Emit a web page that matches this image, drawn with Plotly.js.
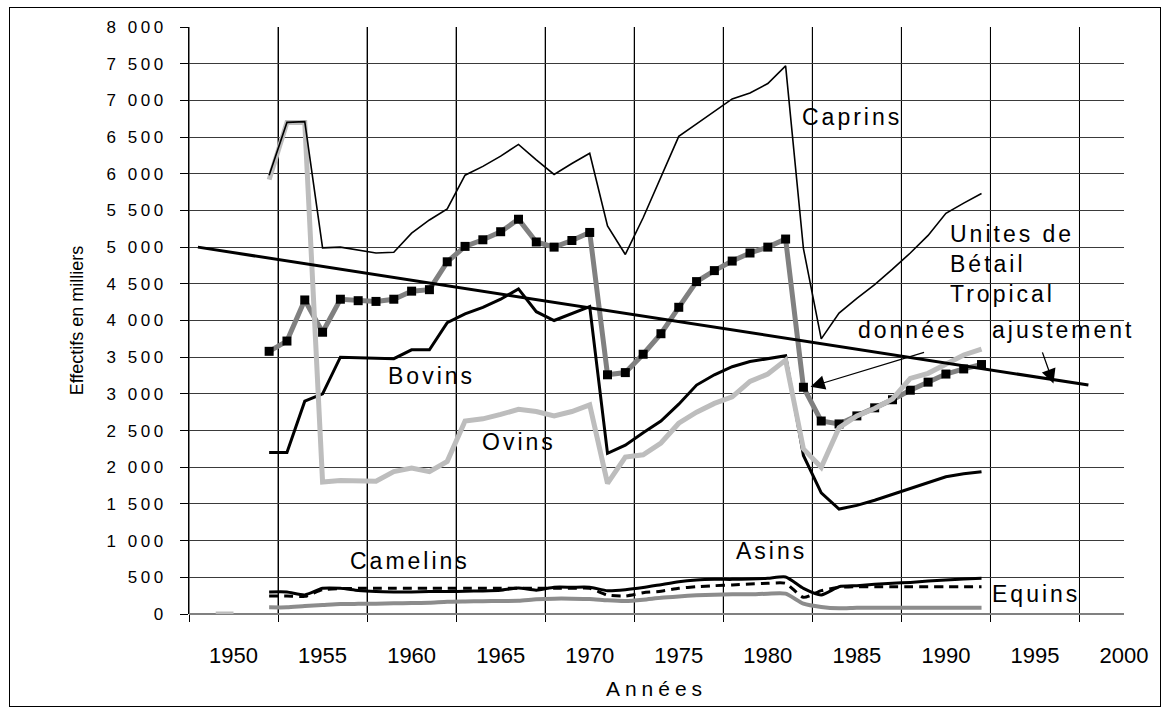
<!DOCTYPE html>
<html><head><meta charset="utf-8">
<script src="https://cdn.plot.ly/plotly-3.0.1.min.js"></script>
<style>
html,body{margin:0;padding:0;background:#fff;}
#chart{width:1168px;height:708px;}
#frame{position:absolute;left:9px;top:7px;width:1150px;height:698px;border:1px solid #000;pointer-events:none;}
.ytick text{letter-spacing:3.5px;}
.annotation-text{letter-spacing:3px;}
.g-x2title text{letter-spacing:5px;}
</style></head>
<body><div id="chart"></div><div id="frame"></div>
<script>
// ---- data ----
const years = [1952,1953,1954,1955,1956,1957,1958,1959,1960,1961,1962,1963,1964,1965,1966,1967,1968,1969,1970,
               1971,1972,1973,1974,1975,1976,1977,1978,1979,1980,1981,
               1982,1983,1984,1985,1986,1987,1988,1989,1990,1991,1992];
const caprins = [5980,6700,6710,4990,5000,4960,4920,4930,5190,5370,5520,5980,6100,6240,6400,6190,5990,6140,6280,
                 5290,4900,5400,5950,6510,6680,6850,7020,7100,7230,7470,
                 4980,3750,4100,4300,4490,4700,4920,5160,5460,5600,5730];
const ubt = [3580,3720,4280,3840,4290,4270,4260,4290,4400,4420,4800,5010,5100,5210,5380,5070,5000,5090,5200,
             3260,3290,3540,3820,4180,4530,4680,4810,4920,5000,5110,
             3090,2630,2590,2700,2810,2920,3050,3160,3270,3340,3400];
const bovins = [2200,2200,2900,3000,3500,3490,3480,3480,3600,3600,3970,4090,4180,4290,4430,4120,4000,4090,4190,
                2190,2300,2470,2630,2860,3120,3260,3370,3440,3480,3520,
                2160,1650,1430,1480,1550,1630,1700,1790,1870,1910,1940];
const ovinsYears = [1949,1950,1951].concat(years);
const ovins = [0,0,null,
               5920,6700,6700,1800,1820,1820,1810,1940,1990,1940,2080,2630,2660,2720,2790,2760,2700,2760,2850,
               1780,2140,2170,2330,2600,2750,2870,2960,3170,3270,3460,
               2250,2000,2540,2700,2800,2930,3210,3280,3400,3530,3610];
const camelins = [300,300,260,350,350,320,305,300,300,305,305,310,315,325,355,325,365,365,365,
                  317,330,360,400,440,463,472,472,477,486,505,
                  350,260,372,386,404,418,431,449,463,477,486];
const asins = [245,245,240,330,345,350,350,350,350,350,350,350,350,350,350,350,350,350,350,
               259,245,290,310,350,372,386,395,408,418,418,
               227,318,363,372,372,372,372,372,372,372,372];
const equins = [91,91,109,122,135,138,140,145,150,155,168,172,175,178,180,200,209,209,205,
                186,177,195,222,240,254,263,268,268,277,277,
                140,95,77,86,86,86,86,86,86,86,86];
const trendYears = [1948,1998];
const trendValues = [5000,3120];

const xTickVals = [1950,1955,1960,1965,1970,1975,1980,1985,1990,1995,2000];
const xTickText = ['1950','1955','1960','1965','1970','1975','1980','1985','1990','1995','2000'];
const xGridVals = [1947.5,1952.5,1957.5,1962.5,1967.5,1972.5,1977.5,1982.5,1987.5,1992.5,1997.5];
const yTickVals = [0,500,1000,1500,2000,2500,3000,3500,4000,4500,5000,5500,6000,6500,7000,7500,8000];
const yTickText = ['0','500','1 000','1 500','2 000','2 500','3 000','3 500','4 000','4 500','5 000','5 500','6 000','6 500','7 000','7 500','8 000'];

// ---- traces ----
const traces = [
  {x:years, y:equins, name:'Equins', mode:'lines', line:{color:'#8c8c8c', width:4, shape:'spline', smoothing:0.6}},
  {x:years, y:asins, name:'Asins', mode:'lines', line:{color:'#000', width:3, dash:'9px,6px', shape:'spline', smoothing:0.6}},
  {x:years, y:camelins, name:'Camelins', mode:'lines', line:{color:'#000', width:3, shape:'spline', smoothing:0.6}},
  {x:years, y:ubt, name:'Unités de Bétail Tropical', mode:'lines+markers', line:{color:'#808080', width:5},
   marker:{symbol:'square', size:9, color:'#000'}},
  {x:years, y:bovins, name:'Bovins', mode:'lines', line:{color:'#000', width:3}},
  {x:ovinsYears, y:ovins, name:'Ovins', mode:'lines', connectgaps:false, line:{color:'#bdbdbd', width:5}},
  {x:years, y:caprins, name:'Caprins', mode:'lines', line:{color:'#000', width:1.6}},
  {x:trendYears, y:trendValues, name:'ajustement', mode:'lines', xaxis:'x2', line:{color:'#000', width:3}}
];

// vertical gridlines between groups of five years
const gridShapes = xGridVals.map(v => ({type:'line', xref:'x', yref:'paper', x0:v, x1:v, y0:0, y1:1,
  layer:'below', line:{color:'#000', width:1}}));

const lf = {size:23, color:'#000', family:'Liberation Sans, Arial, sans-serif'};
const layout = {
  width:1168, height:708,
  margin:{l:189, r:44, t:27, b:94},
  paper_bgcolor:'#fff', plot_bgcolor:'#fff',
  showlegend:false,
  font:{family:'Liberation Sans, Arial, sans-serif', color:'#000'},
  xaxis:{range:[1947.5,2000], tickmode:'array', tickvals:xGridVals, showticklabels:false,
    ticks:'outside', ticklen:7, tickcolor:'#000', tickwidth:1,
    showgrid:true, gridcolor:'#000', gridwidth:1, zeroline:false, showline:false},
  xaxis2:{overlaying:'x', matches:'x', anchor:'y', side:'bottom', range:[1947.5,2000],
    tickmode:'array', tickvals:xTickVals, ticktext:xTickText,
    ticks:'', showgrid:false, zeroline:false, showline:false, tickfont:{size:22}, ticklabelstandoff:26,
    title:{text:'Années', font:{size:21}, standoff:14}},
  yaxis:{range:[0,8000], tickmode:'array', tickvals:yTickVals, ticktext:yTickText,
    ticks:'outside', ticklen:8, tickcolor:'#000', showline:true, linecolor:'#000', linewidth:1,
    showgrid:true, gridcolor:'#3a3a3a', gridwidth:1, zeroline:true, zerolinecolor:'#808080', zerolinewidth:2,
    tickfont:{size:17}, ticklabelstandoff:10,
    title:{text:'Effectifs en milliers', font:{size:18}, standoff:18}},
  shapes: gridShapes,
  annotations:[
    {x:1984.73, y:6769, text:'Caprins', showarrow:false, font:lf},
    {x:1990.12, y:4767, text:'Unites de<br>Bétail<br>Tropical', align:'left', xanchor:'left', showarrow:false, font:lf},
    {x:1988.15, y:3868, text:'données', showarrow:false, font:lf},
    {x:1996.6, y:3868, text:'ajustement', showarrow:false, font:lf},
    {x:1961.14, y:3242, text:'Bovins', showarrow:false, font:lf},
    {x:1966.03, y:2343, text:'Ovins', showarrow:false, font:lf},
    {x:1959.9, y:722, text:'Camelins', showarrow:false, font:lf},
    {x:1980.18, y:858, text:'Asins', showarrow:false, font:lf},
    {x:1995.07, y:272, text:'Equins', showarrow:false, font:lf},
    {x:1982.4, y:3096, ax:115, ay:-35, text:'', showarrow:true, arrowhead:2, arrowsize:2.2, arrowwidth:1.3, arrowcolor:'#000'},
    {x:1996.04, y:3142, ax:-11.6, ay:-32.6, text:'', showarrow:true, arrowhead:2, arrowsize:2.2, arrowwidth:1.3, arrowcolor:'#000'}
  ]
};

Plotly.newPlot('chart', traces, layout, {displayModeBar:false, staticPlot:true});
</script></body></html>
